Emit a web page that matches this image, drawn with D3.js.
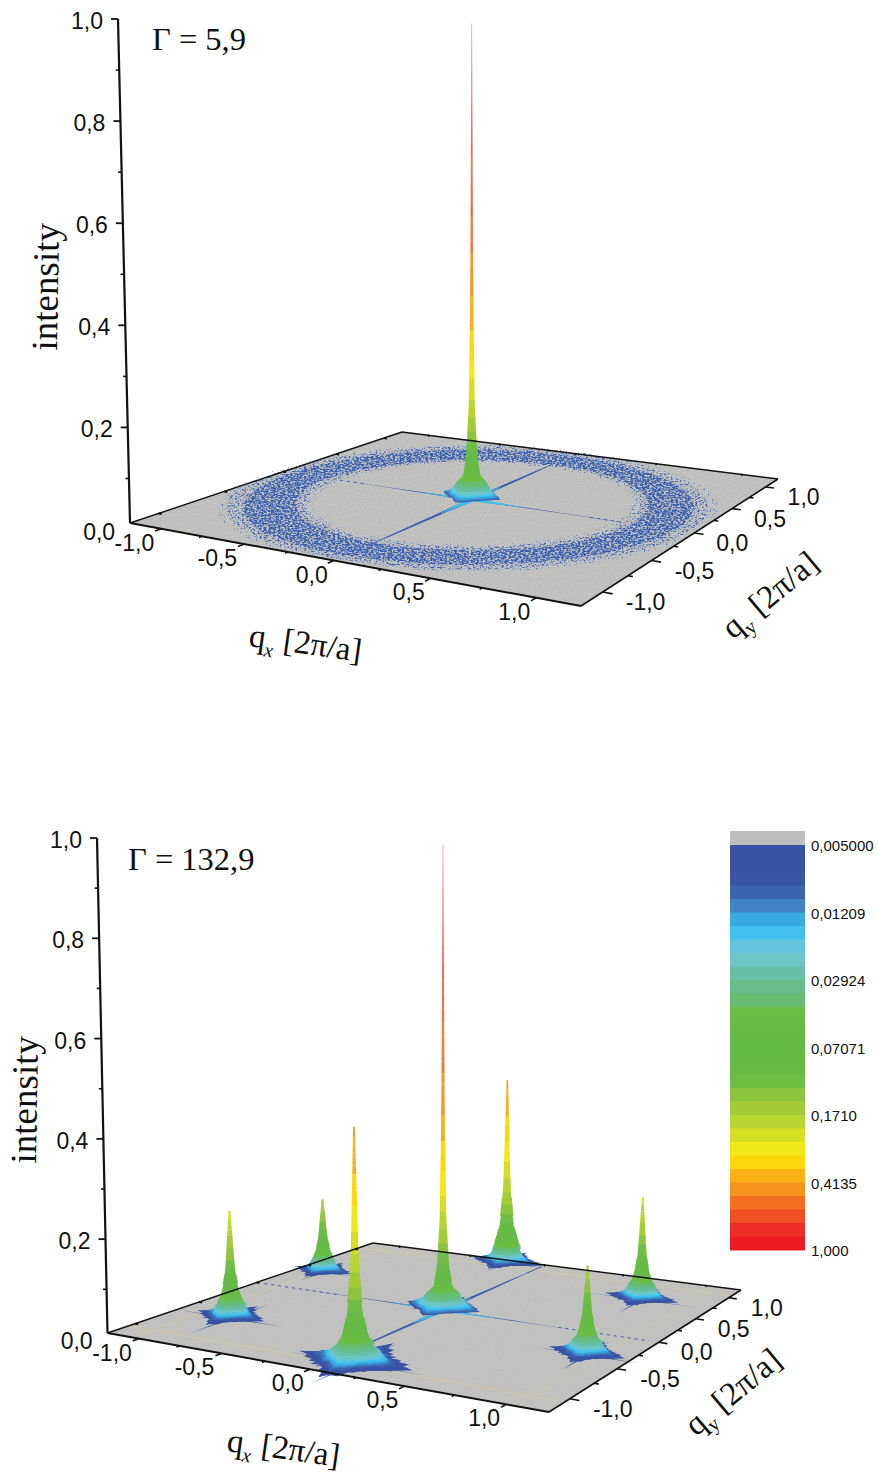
<!DOCTYPE html>
<html>
<head>
<meta charset="utf-8">
<script src="https://cdn.jsdelivr.net/npm/d3@7"></script>
<style>
  body { margin: 0; background: #fff; }
  .tick-label { font-family: "Liberation Sans", Arial, sans-serif; font-size: 23px; fill: #111; }
  .serif { font-family: "Liberation Serif", "Times New Roman", serif; fill: #111; }
  .bar-axis text { font-family: "Liberation Sans", Arial, sans-serif; font-size: 15px; fill: #111; }
</style>
</head>
<body>
<div id="chart"></div>
<script>
// values
const zTicks = [0, 0.2, 0.4, 0.6, 0.8, 1];
const zTickLabels = ["0,0", "0,2", "0,4", "0,6", "0,8", "1,0"];
const zMinorTicks = [0.1, 0.3, 0.5, 0.7, 0.9];
const qTicks = [-1, -0.5, 0, 0.5, 1];
const qTickLabels = ["-1,0", "-0,5", "0,0", "0,5", "1,0"];
const qMinorTicks = [-0.75, -0.25, 0.25, 0.75];
const qLimits = [-1.2, 1.2];

const barTicks = [0.005, 0.01209, 0.02924, 0.07071, 0.171, 0.4135, 1];
const barTickLabels = ["0,005000", "0,01209", "0,02924", "0,07071", "0,1710", "0,4135", "1,000"];
const barColors = [
  "#3a53a4", "#3a53a4", "#3a55a5", "#3a66b0", "#3f82c5", "#3ba9e1", "#42c1ee", "#63c5dd",
  "#6ec6c4", "#68bfa8", "#66bd8b", "#66bc70", "#6cbd45", "#68bc46", "#66bb46", "#66bb46",
  "#68bc46", "#70bd44", "#8cc43f", "#a3cb38", "#b9d531", "#d7df23", "#f1e916", "#fcd80a",
  "#fbb116", "#f7941d", "#f36f21", "#f04e23", "#ee2e24", "#ed1c24"
];

// shape of a peak: share of its height -> radius in q units
const profileShare = [0.005, 0.01, 0.02, 0.035, 0.05, 0.08, 0.115, 0.2, 0.41, 0.73, 1];
const profileRadius = [0.14, 0.105, 0.08, 0.063, 0.037, 0.026, 0.021, 0.013, 0.0068, 0.0037, 0.0013];
// how the foot of a peak narrows with intensity
const footFallZ = [0.005, 0.01, 0.02, 0.04, 0.07];
const footFallShare = [1, 0.75, 0.6, 0.5, 0.45];
// radius of the foot of a peak, every 15 degrees from +qx
const footStar = [1.4, 1.15, 0.92, 0.85, 0.88, 1.05, 1.4, 1.12, 0.92, 0.86, 0.9, 1.08, 1.45, 1.12, 0.95, 0.9, 0.85, 1.05, 1.35, 1.1, 0.9, 0.85, 0.9, 1.12];
const footRough = [1.2, 0.8, 1.35, 0.9, 1.1, 0.75, 1.4, 0.95, 1.15, 0.8, 1.3, 1.0, 0.85, 1.25, 0.9, 1.35, 0.8, 1.1, 0.95, 1.3, 0.75, 1.2, 1.0, 0.9, 1.25];

// top panel, Gamma = 5,9
const ringAngles = [0, 30, 60, 90, 120, 150, 180, 210, 240, 270, 300, 330];
const ringDenseInner = [0.89, 0.89, 0.9, 0.89, 0.89, 0.89, 0.9, 0.89, 0.89, 0.89, 0.88, 0.89];
const ringDenseOuter = [1.1, 1.12, 1.12, 1.13, 1.15, 1.14, 1.14, 1.15, 1.14, 1.11, 1.1, 1.1];
const ringSparseInner = [0.85, 0.85, 0.86, 0.85, 0.86, 0.85, 0.84, 0.84, 0.84, 0.84, 0.83, 0.84];
const ringSparseOuter = [1.17, 1.19, 1.19, 1.2, 1.24, 1.22, 1.22, 1.24, 1.21, 1.17, 1.17, 1.16];
const ringFaintInner = [0.8, 0.81, 0.82, 0.81, 0.82, 0.8, 0.8, 0.8, 0.8, 0.8, 0.79, 0.8];
const ringFaintOuter = [1.21, 1.24, 1.24, 1.25, 1.28, 1.27, 1.26, 1.28, 1.25, 1.2, 1.2, 1.2];

const topPeakQx = [0];
const topPeakQy = [0];
const topPeakHeight = [1];
const topPeakWidth = [1.25];
const topPeakFoot = [0.16];
const topPeakBase = [0.009];
const topPeakRough = [0.3];
const topPeakArm = [0];

// bottom panel, Gamma = 132,9
const bottomPeakQx = [-0.22, -1.02, 0, 0.81, -0.85, 0.99, 0.126];
const bottomPeakQy = [1.13, 0.39, 0, 0.72, -0.68, -0.37, -1.02];
const bottomPeakHeight = [0.447, 0.173, 1, 0.228, 0.226, 0.173, 0.447];
const bottomPeakWidth = [3.5, 4.5, 1.4, 4, 4, 4, 3];
const bottomPeakFoot = [0.15, 0.12, 0.19, 0.13, 0.13, 0.12, 0.19];
const bottomPeakBase = [0.005, 0.005, 0.008, 0.005, 0.005, 0.005, 0.005];
const bottomPeakRough = [1, 1, 0.5, 1, 1, 1, 1];
const bottomPeakArm = [0.25, 0.22, 0, 0.3, 0.32, 0.26, 0.36];
const faintLinesQ = [-1.05, 1.05];

// the cross through the centre: distance from centre -> half width
const crossDistance = [0, 0.1, 0.25, 0.5, 0.75, 0.95];
const topCrossQxLine = [0.022, 0.018, 0.013, 0.01, 0.007, 0.002];
const topCrossQyLine = [0.016, 0.012, 0.008, 0.004, 0.002, 0.0008];
const coreDistance = [0, 0.08, 0.16, 0.3];
const coreHalfWidth = [0.03, 0.022, 0.012, 0.002];
const topDashEnd = 0.85;
const bottomCrossQxLine = [0.024, 0.018, 0.012, 0.009, 0.007, 0.004];
const bottomCrossQyLine = [0.016, 0.012, 0.007, 0.003, 0.0015, 0.0008];
const bottomDashEnd = 1.15;

// layout
const width = 878, height = 1477;
const tickLength = 0.045;

const panels = [
  {
    left: [130, 523], front: [581, 606], right: [778, 479], back: [402, 432], zTop: [118, 19],
    title: "Γ = 5,9", titleX: 152, titleY: 50,
    yTitleX: 58, yTitleY: 287,
    xTitleX: 248, xTitleY: 646, yAxisTitleX: 733, yAxisTitleY: 640,
    floor: "#bebebc", noise: 0.22,
    ring: true, crossA: topCrossQxLine, crossB: topCrossQyLine, dashEnd: topDashEnd,
    peakQx: topPeakQx, peakQy: topPeakQy, peakHeight: topPeakHeight, peakWidth: topPeakWidth,
    peakFoot: topPeakFoot, peakBase: topPeakBase, peakRough: topPeakRough, peakArm: topPeakArm
  },
  {
    left: [107.5, 1333], front: [549, 1412], right: [741, 1290], back: [373, 1243], zTop: [97, 838],
    title: "Γ = 132,9", titleX: 128, titleY: 870,
    yTitleX: 37, yTitleY: 1100,
    xTitleX: 226, xTitleY: 1451, yAxisTitleX: 696, yAxisTitleY: 1437,
    floor: "#c0c0be", noise: 0.1,
    ring: false, crossA: bottomCrossQxLine, crossB: bottomCrossQyLine, dashEnd: bottomDashEnd,
    peakQx: bottomPeakQx, peakQy: bottomPeakQy, peakHeight: bottomPeakHeight, peakWidth: bottomPeakWidth,
    peakFoot: bottomPeakFoot, peakBase: bottomPeakBase, peakRough: bottomPeakRough, peakArm: bottomPeakArm
  }
];

const svg = d3.select("#chart").append("svg")
    .attr("width", width)
    .attr("height", height)
    .attr("viewBox", [0, 0, width, height])
    .style("display", "block");

// speckle used for the scattered ring and the noisy floor
const defs = svg.append("defs");
function addSpeckle(id, freq, seed, gain, offset) {
  const f = defs.append("filter")
      .attr("id", id)
      .attr("filterUnits", "userSpaceOnUse")
      .attr("x", 0).attr("y", 0).attr("width", width).attr("height", height)
      .attr("color-interpolation-filters", "sRGB");
  f.append("feTurbulence")
      .attr("type", "fractalNoise")
      .attr("baseFrequency", freq)
      .attr("numOctaves", 1)
      .attr("seed", seed)
      .attr("result", "noise");
  f.append("feColorMatrix")
      .attr("in", "noise")
      .attr("type", "matrix")
      .attr("values", `0 0 0 0 0  0 0 0 0 0  0 0 0 0 0  ${gain} 0 0 0 ${offset}`)
      .attr("result", "mask");
  f.append("feComposite")
      .attr("in", "SourceGraphic")
      .attr("in2", "mask")
      .attr("operator", "in");
}
addSpeckle("ring-dense", "0.42 0.65", 3, 6, -2.55);
addSpeckle("ring-sparse", "0.45 0.7", 8, 6, -3.1);
addSpeckle("ring-faint", "0.5 0.75", 14, 6, -3.6);
addSpeckle("floor-noise", "0.8 0.9", 5, 4, -2.1);

// colour and colour bar scales
const barTop = 845, barBottom = 1250;
const barY = d3.scaleLog().domain([0.005, 1]).range([barTop, barBottom]);
const barStep = d3.scaleLinear().domain([0, barColors.length]).range([barTop, barBottom]);
function colorOf(z) {
  const i = Math.floor(barStep.invert(barY(z)));
  return barColors[Math.max(0, Math.min(barColors.length - 1, i))];
}

const profile = d3.scaleLog().domain(profileShare).range(profileRadius).clamp(true);
const footFall = d3.scaleLog().domain(footFallZ).range(footFallShare).clamp(true);
const footWeight = d3.scaleLog().domain([0.005, 0.05]).range([1, 0]).clamp(true);
const tipFade = d3.scaleLinear().domain([0.45, 1]).range([1, 0.45]).clamp(true);
const zAxisScale = d3.scaleLinear().domain([0, 1]).range([-0.013, 1]);

// perspective of the floor from its four corners, z is lifted by the same depth
function makeProjection(p) {
  const [lx, ly] = p.left, [fx, fy] = p.front, [rx, ry] = p.right, [bx, by] = p.back;
  const sx = lx - fx + rx - bx, sy = ly - fy + ry - by;
  const d1x = fx - rx, d1y = fy - ry, d2x = bx - rx, d2y = by - ry;
  const det = d1x * d2y - d2x * d1y;
  const g = (sx * d2y - d2x * sy) / det;
  const h = (d1x * sy - sx * d1y) / det;
  const q = d3.scaleLinear().domain(qLimits).range([0, 1]);
  const floorAt = (qx, qy) => {
    const u = q(qx), v = q(qy);
    const w = 1 + g * u + h * v;
    return [
      (lx + ((1 + g) * fx - lx) * u + ((1 + h) * bx - lx) * v) / w,
      (ly + ((1 + g) * fy - ly) * u + ((1 + h) * by - ly) * v) / w,
      w
    ];
  };
  const centreX = floorAt(0, 0)[0];
  const lift = ly - p.zTop[1];
  const spread = (lx - p.zTop[0]) / (centreX - lx);
  return (qx, qy, z = 0) => {
    const [x, y, w] = floorAt(qx, qy);
    return [x + (x - centreX) * spread * z, y - z * lift / w];
  };
}

const polyPath = pts => "M" + pts.map(d => d[0].toFixed(2) + "," + d[1].toFixed(2)).join("L") + "Z";
const smoothClosed = d3.line().curve(d3.curveCardinalClosed);

panels.forEach(p => {
  const project = makeProjection(p);
  const g = svg.append("g");
  const [qMin, qMax] = qLimits;
  const floorCorners = [project(qMin, qMin), project(qMax, qMin), project(qMax, qMax), project(qMin, qMax)];

  // floor
  g.append("path").attr("d", polyPath(floorCorners)).attr("fill", p.floor);
  g.append("path").attr("d", polyPath(floorCorners)).attr("fill", "#fff").attr("opacity", p.noise).attr("filter", "url(#floor-noise)");

  if (!p.ring) {
    faintLinesQ.forEach(c => {
      [[[qMin, c], [qMax, c]], [[c, qMin], [c, qMax]]].forEach(seg => {
        g.append("path")
            .attr("d", d3.line()(seg.map(d => project(d[0], d[1]))))
            .attr("stroke", "#cfc9a8")
            .attr("stroke-width", 1)
            .attr("fill", "none");
      });
    });
  }

  // scattered ring
  if (p.ring) {
    const ringPath = (inner, outer) => {
      const rim = radii => ringAngles.map((a, i) => {
        const t = a * Math.PI / 180;
        return project(radii[i] * Math.cos(t), radii[i] * Math.sin(t));
      });
      return smoothClosed(rim(outer)) + smoothClosed(rim(inner));
    };
    [
      [ringFaintInner, ringFaintOuter, "#4a72bc", "ring-faint"],
      [ringSparseInner, ringSparseOuter, "#3f66b4", "ring-sparse"],
      [ringDenseInner, ringDenseOuter, "#3c60b0", "ring-dense"]
    ].forEach(([inner, outer, fill, filter]) => {
      g.append("path")
          .attr("d", ringPath(inner, outer))
          .attr("fill-rule", "evenodd")
          .attr("fill", fill)
          .attr("filter", `url(#${filter})`);
    });
  }

  // the cross along qx = 0 and qy = 0
  const dist = d3.scaleLinear().domain([0, 1]).range([0, d3.max(crossDistance)]);
  const armShape = (along, halfWidths, sign, axis) => {
    const upper = along.map((d, i) => axis === "x" ? project(halfWidths[i], sign * d) : project(sign * d, halfWidths[i]));
    const lower = along.map((d, i) => axis === "x" ? project(-halfWidths[i], sign * d) : project(sign * d, -halfWidths[i])).reverse();
    return polyPath(upper.concat(lower));
  };
  [-1, 1].forEach(sign => {
    g.append("path").attr("d", armShape(crossDistance, p.crossA, sign, "x")).attr("fill", "#3a5cab");
    g.append("path").attr("d", armShape(crossDistance, p.crossB, sign, "y")).attr("fill", "#3a5cab");
    if (p.dashEnd > dist(1)) {
      g.append("path")
          .attr("d", d3.line()([project(0, sign * dist(1)), project(0, sign * p.dashEnd)]))
          .attr("stroke", "#3a5cab").attr("stroke-width", 1).attr("fill", "none");
    }
    g.append("path")
        .attr("d", d3.line()([project(sign * dist(1) * 0.7, 0), project(sign * p.dashEnd, 0)]))
        .attr("stroke", "#3f66b4").attr("stroke-width", 1).attr("stroke-dasharray", "3 4").attr("fill", "none");
    g.append("path").attr("d", armShape(coreDistance, coreHalfWidth, sign, "x")).attr("fill", "#42c1ee");
    g.append("path").attr("d", armShape(coreDistance, coreHalfWidth, sign, "y")).attr("fill", "#42c1ee");
  });

  // peaks, back to front, stacked from the floor up
  const order = d3.range(p.peakQx.length).sort((a, b) =>
    project(p.peakQx[a], p.peakQy[a])[1] - project(p.peakQx[b], p.peakQy[b])[1]);

  order.forEach(k => {
    const qx0 = p.peakQx[k], qy0 = p.peakQy[k], h = p.peakHeight[k], wid = p.peakWidth[k];
    const foot = p.peakFoot[k], base = p.peakBase[k], rough = p.peakRough[k], arm = p.peakArm[k];
    const radiusAt = z => Math.min(wid * profile(z / h), foot * footFall(z));

    if (arm > 0) {
      [[arm, 0], [-arm, 0], [0, arm], [0, -arm]].forEach(([ax, ay]) => {
        const w = 0.01;
        const a = project(qx0 + (ay ? w : 0), qy0 + (ax ? w : 0));
        const b = project(qx0 - (ay ? w : 0), qy0 - (ax ? w : 0));
        const t = project(qx0 + ax, qy0 + ay);
        g.append("path").attr("d", polyPath([a, t, b])).attr("fill", "#3a5cab");
      });
    }

    const levels = d3.range(0, 101).map(i => base * Math.pow(h / base, i / 100));
    levels.forEach((z, li) => {
      const share = z / h;
      const r = radiusAt(z);
      const color = colorOf(z);
      const lump = footRough[Math.floor(li / 7) % footRough.length] - 1;
      const jag = 1 + rough * 0.35 * lump * (share < 0.5 ? 1 : 0);

      if (r > 0.012) {
        const weight = footWeight(z);
        const ringPts = footStar.map((s, i) => {
          const t = i * 15 * Math.PI / 180;
          const spike = 1 + rough * (footRough[(i + li) % footRough.length] - 1) * 0.6 * weight;
          const rad = r * (1 + (s - 1) * weight) * spike;
          return project(qx0 + rad * Math.cos(t), qy0 + rad * Math.sin(t), z);
        });
        g.append("path").attr("d", polyPath(ringPts)).attr("fill", color);
      }

      if (li < levels.length - 1) {
        const zNext = levels[li + 1];
        const rNext = radiusAt(zNext);
        const off = r * jag / Math.SQRT2, offNext = rNext * jag / Math.SQRT2;
        g.append("path")
            .attr("d", polyPath([
              project(qx0 - off, qy0 - off, z),
              project(qx0 + off, qy0 + off, z),
              project(qx0 + offNext, qy0 + offNext, zNext),
              project(qx0 - offNext, qy0 - offNext, zNext)
            ]))
            .attr("fill", color)
            .attr("opacity", tipFade(z));
      }
    });
  });

  // floor edges
  const edge = (a, b, w) => g.append("path")
      .attr("d", d3.line()([a, b]))
      .attr("stroke", "#111").attr("stroke-width", w).attr("fill", "none");
  edge(project(qMin, qMin), project(qMin, qMax), 1.4);
  edge(project(qMin, qMax), project(qMax, qMax), 1.4);
  edge(project(qMin, qMin), project(qMax, qMin), 2);
  edge(project(qMax, qMin), project(qMax, qMax), 1.6);

  // intensity axis
  edge(project(qMin, qMin, 0), project(qMin, qMin, 1), 2.2);
  zTicks.forEach((z, i) => {
    const [x, y] = project(qMin, qMin, zAxisScale(z));
    if (z > 0) edge([x - 7, y], [x, y], 1.8);
    g.append("text").attr("class", "tick-label")
        .attr("x", x - 15)
        .attr("y", y + 2)
        .attr("text-anchor", "end")
        .attr("dominant-baseline", "central")
        .text(zTickLabels[i]);
  });
  zMinorTicks.forEach(z => {
    const [x, y] = project(qMin, qMin, zAxisScale(z));
    edge([x - 3.5, y], [x, y], 1.6);
  });

  // qx and qy axes with ticks on all four floor edges
  qTicks.concat(qMinorTicks).forEach(v => {
    const major = qTicks.includes(v);
    const len = major ? tickLength : tickLength * 0.5;
    edge(project(v, qMin), project(v, qMin - len), 1.6);
    edge(project(qMax, v), project(qMax + len, v), 1.6);
    if (major) {
      edge(project(v, qMax), project(v, qMax - 0.02), 2.2);
      edge(project(qMin, v), project(qMin + 0.02, v), 2.2);
    }
  });
  qTicks.forEach((v, i) => {
    const shift = v < 0 ? 5 : 0;
    const [xa, ya] = project(v, qMin);
    g.append("text").attr("class", "tick-label")
        .attr("x", xa - 22 - shift).attr("y", ya + 14)
        .attr("text-anchor", "middle").attr("dominant-baseline", "central")
        .text(qTickLabels[i]);
    const [xb, yb] = project(qMax, v);
    g.append("text").attr("class", "tick-label")
        .attr("x", xb + 38 + shift).attr("y", yb + 10)
        .attr("text-anchor", "middle").attr("dominant-baseline", "central")
        .text(qTickLabels[i]);
  });

  // titles
  g.append("text").attr("class", "serif")
      .attr("x", p.titleX).attr("y", p.titleY)
      .attr("font-size", 32.5)
      .text(p.title);

  g.append("text").attr("class", "serif")
      .attr("transform", `translate(${p.yTitleX},${p.yTitleY}) rotate(-89)`)
      .attr("text-anchor", "middle")
      .attr("font-size", 37)
      .text("intensity");

  const qx = g.append("text").attr("class", "serif")
      .attr("transform", `translate(${p.xTitleX},${p.xTitleY}) rotate(8)`)
      .attr("font-size", 33);
  qx.append("tspan").text("q");
  qx.append("tspan").attr("font-size", 20).attr("font-style", "italic").attr("dy", 8).text("x");
  qx.append("tspan").attr("dy", -8).attr("dx", 9).text("[2π/a]");

  const qy = g.append("text").attr("class", "serif")
      .attr("transform", `translate(${p.yAxisTitleX},${p.yAxisTitleY}) rotate(-40)`)
      .attr("font-size", 33);
  qy.append("tspan").text("q");
  qy.append("tspan").attr("font-size", 20).attr("dy", 8).text("y");
  qy.append("tspan").attr("dy", -8).attr("dx", 9).text("[2π/a]");
});

// colour bar
const bar = svg.append("g");
const barX = 730, barWidth = 75;
bar.append("rect")
    .attr("x", barX).attr("y", 831)
    .attr("width", barWidth).attr("height", barTop - 831)
    .attr("fill", "#bebebe");
bar.selectAll(".swatch")
    .data(barColors)
    .join("rect")
      .attr("class", "swatch")
      .attr("x", barX)
      .attr("y", (d, i) => barStep(i))
      .attr("width", barWidth)
      .attr("height", (d, i) => barStep(i + 1) - barStep(i) + 0.5)
      .attr("fill", d => d);

const barAxis = bar.append("g")
    .attr("class", "bar-axis")
    .attr("transform", `translate(${barX + barWidth},1)`)
    .call(d3.axisRight(barY)
      .tickValues(barTicks)
      .tickSize(0)
      .tickPadding(6)
      .tickFormat((d, i) => barTickLabels[i]));
barAxis.select(".domain").remove();
</script>
</body>
</html>
